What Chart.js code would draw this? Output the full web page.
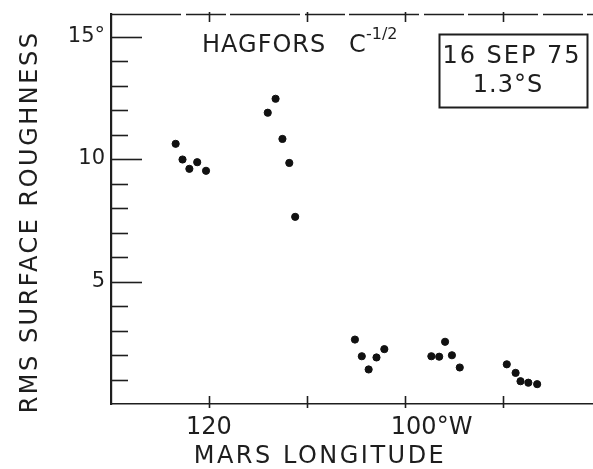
<!DOCTYPE html>
<html>
<head>
<meta charset="utf-8">
<script src="https://cdn.jsdelivr.net/npm/chart.js@4/dist/chart.umd.min.js"></script>
<style>
  html, body { margin: 0; padding: 0; background: #fff; }
  #wrap { position: relative; width: 593px; height: 469px; }
</style>
</head>
<body>
<div id="wrap"><canvas id="roughness"></canvas></div>
<script>
// values: Mars longitude (deg W) and rms surface roughness (deg)
const longitudes = [123.4, 122.7, 122.0, 121.2, 120.3,
                    114.0, 113.2, 112.5, 111.8, 111.2,
                    105.1, 104.4, 103.7, 102.9, 102.1,
                    97.3, 96.5, 95.9, 95.2, 94.4,
                    89.6, 88.7, 88.2, 87.4, 86.5];
const roughness = [10.62, 9.98, 9.60, 9.87, 9.52,
                   11.89, 12.46, 10.82, 9.84, 7.64,
                   2.63, 1.95, 1.41, 1.90, 2.24,
                   1.95, 1.93, 2.54, 1.99, 1.49,
                   1.62, 1.27, 0.93, 0.87, 0.81];

const xTicks = [120, 110, 100, 90];
const xTickLabels = { 120: '120', 100: '\u00a0\u00a0\u00a0\u00a0\u00a0\u00a0\u00a0100°W' };
const yTicks = [5, 10, 15];
const yTickLabels = { 5: '5', 10: '10', 15: '15°' };
const yMinorTicks = [1, 2, 3, 4, 5, 6, 7, 8, 9, 10, 11, 12, 13, 14, 15];

const INK = '#1e1e1e';
const FONT = '"DejaVu Sans", sans-serif';

// hand-lettered bits of the figure: ticks, top frame, titles, date box
const plate = {
    id: 'plate',
    afterDraw(chart) {
        const { ctx, chartArea: a, scales: { x, y } } = chart;
        ctx.save();
        ctx.strokeStyle = INK;
        ctx.fillStyle = INK;

        // top frame, a bit broken like the original
        ctx.lineWidth = 1.3;
        ctx.setLineDash([70, 5, 40, 4]);
        ctx.beginPath();
        ctx.moveTo(a.left, a.top + 0.5);
        ctx.lineTo(a.right, a.top + 0.5);
        ctx.stroke();
        ctx.setLineDash([]);

        // inward y ticks
        ctx.lineWidth = 1.6;
        yMinorTicks.forEach(v => {
            const py = Math.round(y.getPixelForValue(v)) + 0.5;
            const len = yTicks.includes(v) ? 31 : 17;
            ctx.beginPath();
            ctx.moveTo(a.left, py);
            ctx.lineTo(a.left + len, py);
            ctx.stroke();
        });

        // x ticks, top and bottom
        xTicks.forEach(v => {
            const px = Math.round(x.getPixelForValue(v)) + 0.5;
            ctx.beginPath();
            ctx.moveTo(px, a.bottom - 8);
            ctx.lineTo(px, a.bottom + 4);
            ctx.moveTo(px, a.top - 2);
            ctx.lineTo(px, a.top + 8);
            ctx.stroke();
        });

        // axis titles
        ctx.font = '24px ' + FONT;
        ctx.letterSpacing = '2.5px';
        ctx.textAlign = 'center';
        ctx.textBaseline = 'alphabetic';
        ctx.fillText('MARS LONGITUDE', 320, 463);

        ctx.save();
        ctx.translate(37, 222);
        ctx.rotate(-Math.PI / 2);
        ctx.fillText('RMS SURFACE ROUGHNESS', 0, 0);
        ctx.restore();

        // plot title
        ctx.textAlign = 'left';
        ctx.letterSpacing = '1px';
        ctx.fillText('HAGFORS', 202, 52);
        ctx.fillText('C', 349, 52);
        ctx.font = '16px ' + FONT;
        ctx.letterSpacing = '0px';
        ctx.fillText('-1/2', 366, 39);

        // date / latitude box
        ctx.lineWidth = 2;
        ctx.strokeRect(439.5, 34.5, 148, 73);
        ctx.font = '24px ' + FONT;
        ctx.textAlign = 'center';
        ctx.letterSpacing = '2px';
        ctx.fillText('16 SEP 75', 512, 63);
        ctx.letterSpacing = '1px';
        ctx.fillText('1.3°S', 508, 92);
        ctx.restore();
    }
};

new Chart(document.getElementById('roughness'), {
    type: 'scatter',
    data: {
        datasets: [{
            data: longitudes.map((lon, i) => ({ x: lon, y: roughness[i] })),
            backgroundColor: '#111',
            borderColor: '#111',
            pointRadius: 3.6,
            pointHoverRadius: 3.6
        }]
    },
    options: {
        responsive: true,
        maintainAspectRatio: false,
        animation: false,
        events: [],
        layout: { autoPadding: false, padding: { top: 14, right: 0, bottom: 0, left: 0 } },
        plugins: { legend: { display: false }, tooltip: { enabled: false } },
        scales: {
            x: {
                type: 'linear',
                reverse: true,
                min: 80.8,
                max: 130,
                afterBuildTicks: s => { s.ticks = xTicks.map(v => ({ value: v })); },
                afterFit: s => { s.height = 65; s.paddingLeft = 0; s.paddingRight = 0; },
                grid: { display: false, drawTicks: false },
                border: { display: true, color: INK, width: 1.6 },
                ticks: {
                    autoSkip: false,
                    maxRotation: 0,
                    padding: 9,
                    color: INK,
                    font: { family: FONT, size: 24 },
                    callback: v => xTickLabels[v] || ''
                }
            },
            y: {
                type: 'linear',
                min: 0,
                max: 15.92,
                afterBuildTicks: s => { s.ticks = yTicks.map(v => ({ value: v })); },
                afterFit: s => { s.width = 111; s.paddingTop = 0; s.paddingBottom = 0; },
                grid: { display: false, drawTicks: false },
                border: { display: true, color: INK, width: 2.2 },
                ticks: {
                    padding: 6,
                    color: INK,
                    font: { family: FONT, size: 21 },
                    callback: v => yTickLabels[v] || ''
                }
            }
        }
    },
    plugins: [plate]
});
</script>
</body>
</html>
